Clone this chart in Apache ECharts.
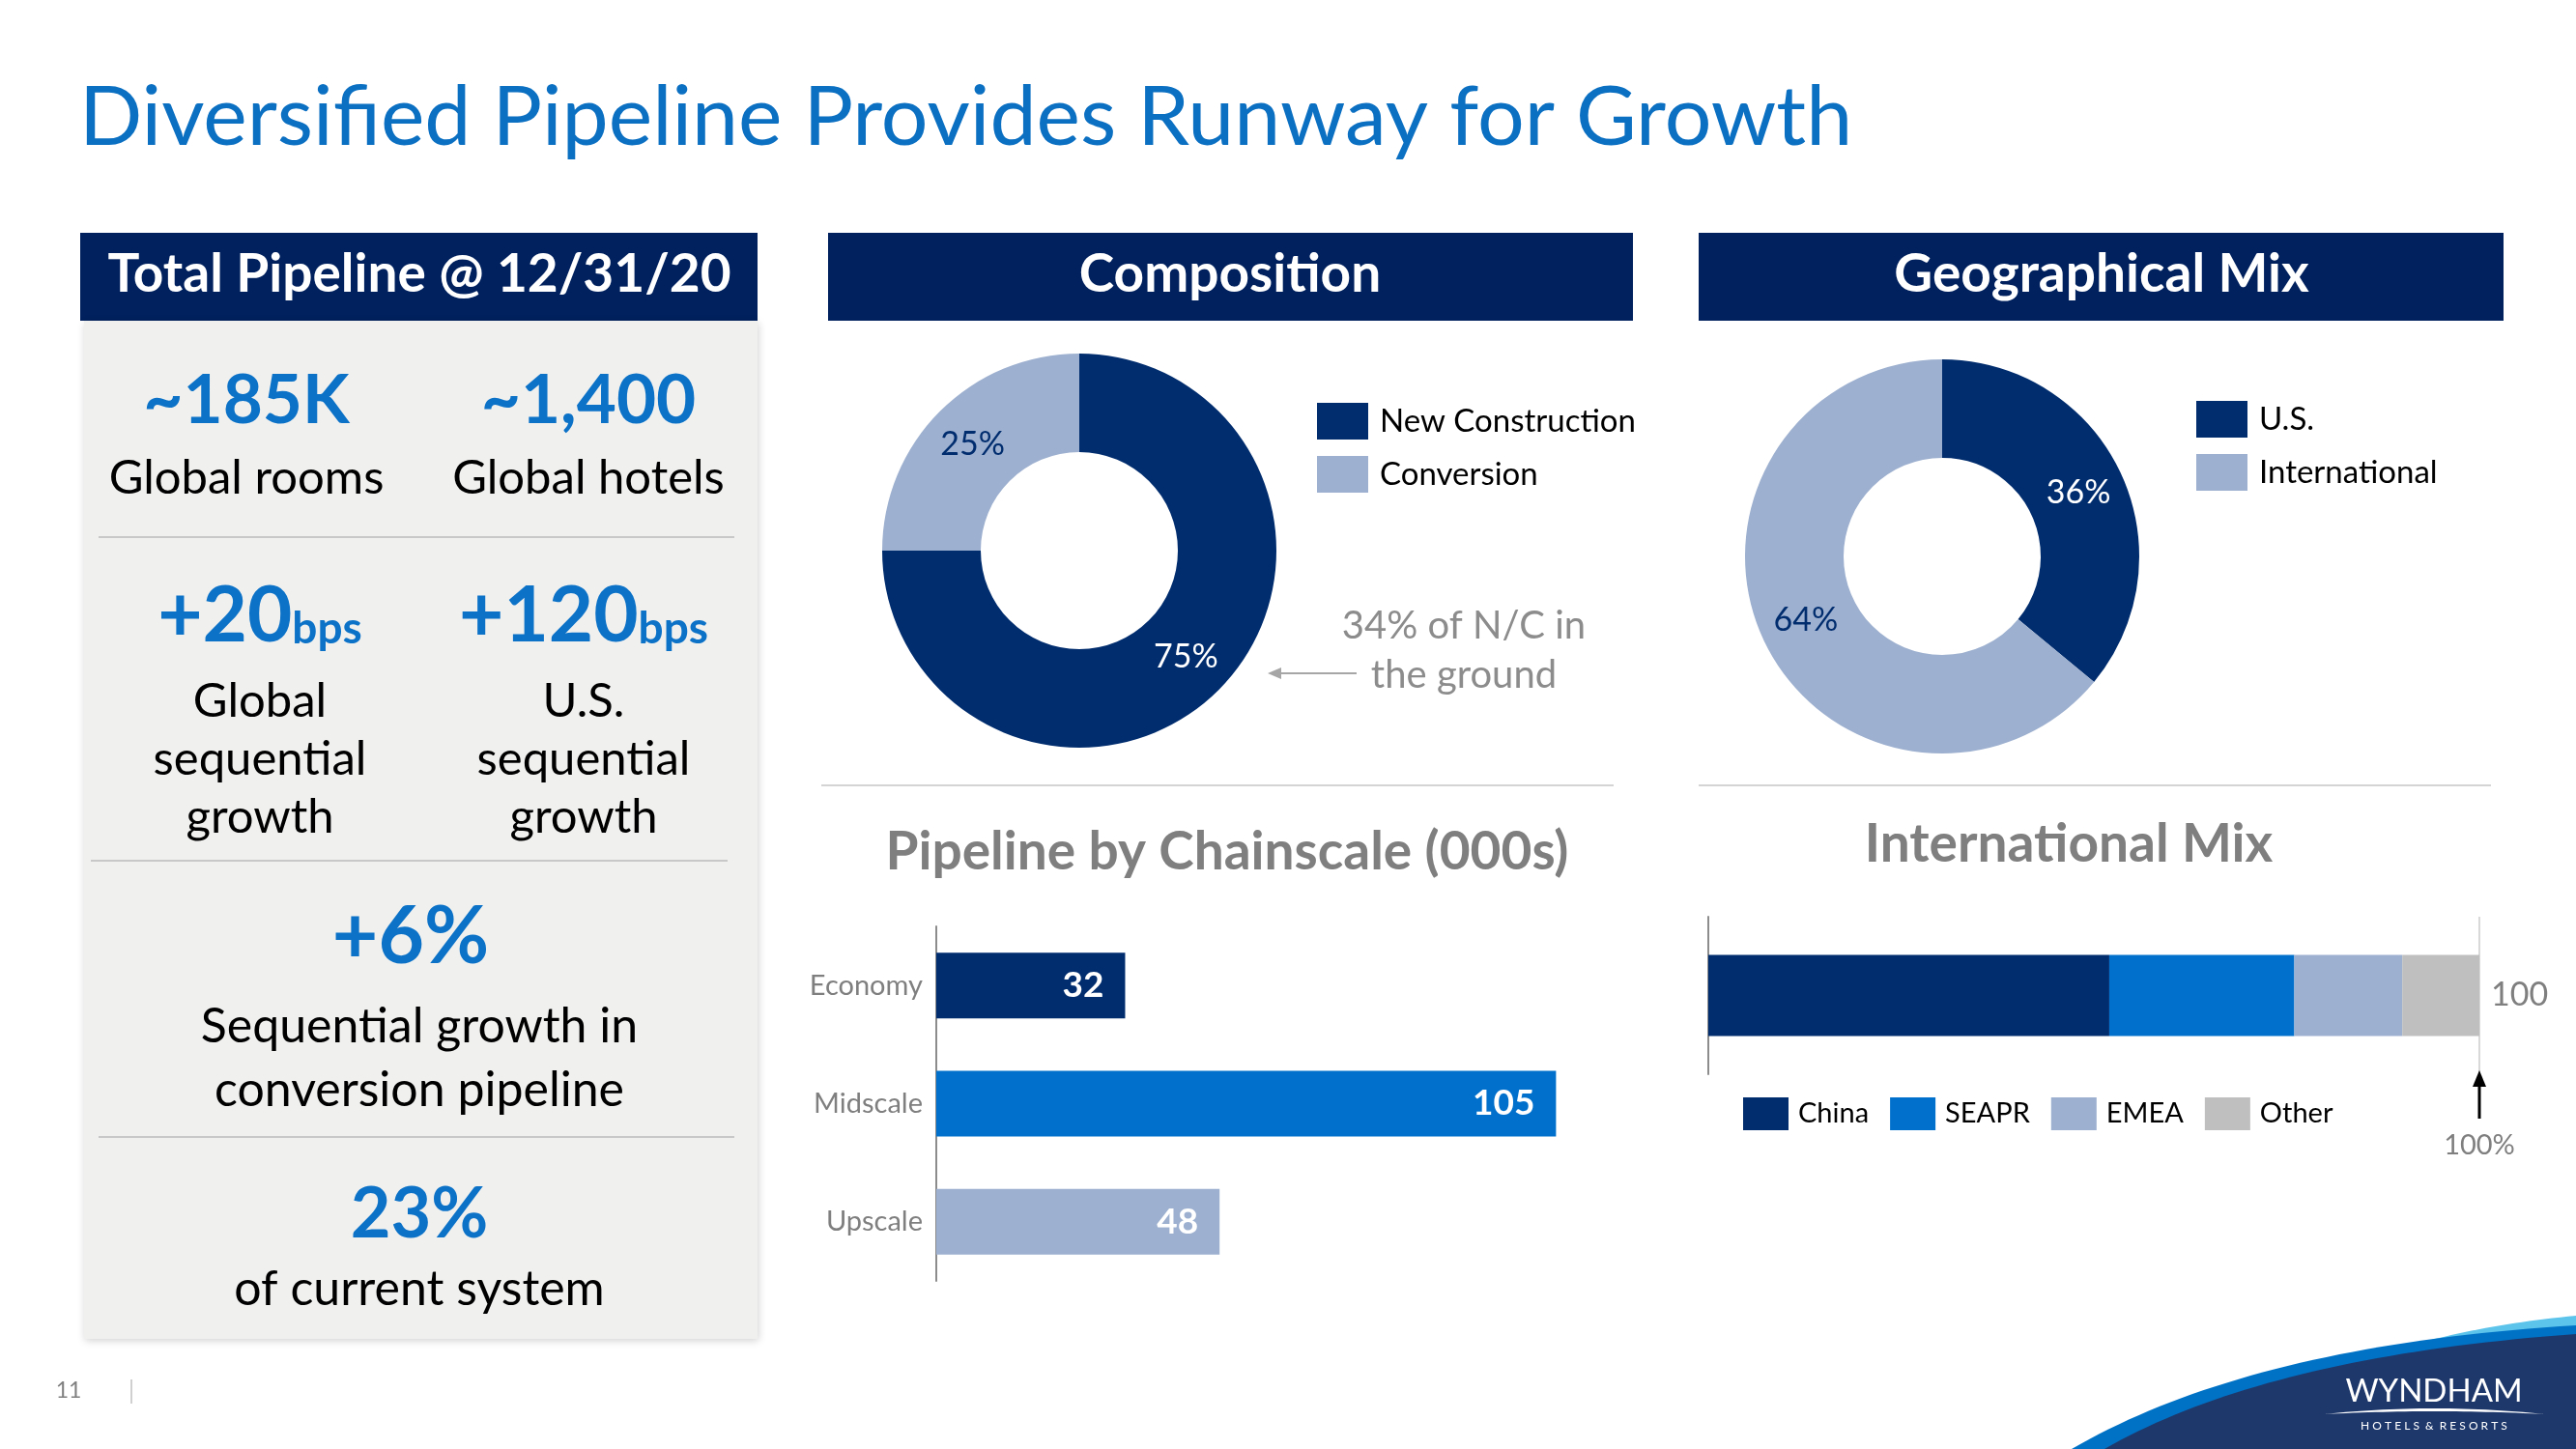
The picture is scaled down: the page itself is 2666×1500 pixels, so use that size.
<!DOCTYPE html>
<html>
<head>
<meta charset="utf-8">
<script src="https://cdn.jsdelivr.net/npm/echarts@6/dist/echarts.min.js"></script>
<style>
  html, body { margin: 0; padding: 0; background: #ffffff; }
  #chart { width: 2666px; height: 1500px; }
</style>
</head>
<body>
<div id="chart"></div>
<script>
// ---------- data ----------
const compositionNames = ['New Construction', 'Conversion'];
const compositionValues = [75, 25];
const geoNames = ['U.S.', 'International'];
const geoValues = [36, 64];
const chainscaleCategories = ['Economy', 'Midscale', 'Upscale'];
const chainscaleValues = [32, 105, 48];
const intlRegions = ['China', 'SEAPR', 'EMEA', 'Other'];
const intlValues = [52, 24, 14, 10];
const intlMarker = 100; // "100%" marker position

// ---------- styles ----------
const FONT = 'Lato, "Open Sans", "Noto Sans", sans-serif';
const NAVY_HDR = '#00215E';
const NAVY = '#012D6F';
const BLUE = '#0070CC';
const LIGHT = '#9DB0CF';
const GREY = '#BFBFBF';
const TXT_BLUE = '#0B72C8';
const TXT_GREY = '#7F7F7F';
const chainColors = [NAVY, BLUE, LIGHT];
const intlColors = [NAVY, BLUE, LIGHT, GREY];

const chart = echarts.init(document.getElementById('chart'), null, { renderer: 'canvas', width: 2666, height: 1500 });

function pieSeries(names, values, center, labelColors) {
  return {
    type: 'pie',
    center: center,
    radius: [102, 204],
    startAngle: 90,
    clockwise: true,
    silent: true,
    animation: false,
    itemStyle: { borderWidth: 0 },
    label: {
      show: true, position: 'inside', formatter: '{c}%',
      fontFamily: FONT, fontSize: 34
    },
    labelLine: { show: false },
    emphasis: { disabled: true },
    data: names.map((n, i) => ({
      name: n, value: values[i],
      itemStyle: { color: i === 0 ? NAVY : LIGHT },
      label: { color: labelColors[i] }
    }))
  };
}

const legendBase = {
  orient: 'vertical', icon: 'rect', itemWidth: 53, itemHeight: 38, itemGap: 17,
  selectedMode: false,
  textStyle: { fontFamily: FONT, fontSize: 33, color: '#000', padding: [0, 0, 0, 7] }
};

const totalIntl = intlValues.reduce((a, b) => a + b, 0);

const option = {
  animation: false,
  backgroundColor: '#ffffff',
  grid: [
    { left: 969, top: 959, width: 733, height: 367, containLabel: false },
    { left: 1768, top: 949, width: 798, height: 163, containLabel: false }
  ],
  xAxis: [
    { gridIndex: 0, type: 'value', min: 0, max: 120, show: false },
    { gridIndex: 1, type: 'value', min: 0, max: 100, interval: 100,
      axisLine: { show: false }, axisTick: { show: false }, axisLabel: { show: false },
      splitLine: { show: true, lineStyle: { color: '#D9D9D9', width: 2 } } }
  ],
  yAxis: [
    { gridIndex: 0, type: 'category', data: chainscaleCategories, inverse: true,
      axisLine: { show: true, lineStyle: { color: '#8C8C8C', width: 2 } },
      axisTick: { show: false },
      axisLabel: { color: TXT_GREY, fontFamily: FONT, fontSize: 29, margin: 14 } },
    { gridIndex: 1, type: 'category', data: ['International'],
      axisLine: { show: true, lineStyle: { color: '#8C8C8C', width: 2 } },
      axisTick: { show: false }, axisLabel: { show: false } }
  ],
  legend: [
    Object.assign({}, legendBase, { left: 1358, top: 412, data: compositionNames }),
    Object.assign({}, legendBase, { left: 2268, top: 410, data: geoNames }),
    { orient: 'horizontal', icon: 'rect', itemWidth: 47, itemHeight: 34, itemGap: 22,
      selectedMode: false, left: 1799, top: 1131, data: intlRegions,
      textStyle: { fontFamily: FONT, fontSize: 29, color: '#000', padding: [0, 0, 0, 5] } }
  ],
  series: [
    pieSeries(compositionNames, compositionValues, [1117, 570], ['#ffffff', NAVY]),
    pieSeries(geoNames, geoValues, [2010, 576], ['#ffffff', NAVY]),
    {
      type: 'bar', xAxisIndex: 0, yAxisIndex: 0, barWidth: 68, silent: true,
      data: chainscaleValues.map((v, i) => ({ value: v, itemStyle: { color: chainColors[i] } })),
      label: { show: true, position: 'insideRight', distance: 22, color: '#fff',
        fontFamily: FONT, fontWeight: 'bold', fontSize: 37 }
    }
  ].concat(intlRegions.map((name, i) => ({
    type: 'bar', name: name, stack: 'intl', xAxisIndex: 1, yAxisIndex: 1,
    barWidth: 84, silent: true,
    itemStyle: { color: intlColors[i] },
    data: [intlValues[i]],
    label: i === intlRegions.length - 1 ? {
      show: true, position: 'right', distance: 12, color: TXT_GREY,
      fontFamily: FONT, fontSize: 34, formatter: () => String(totalIntl)
    } : { show: false }
  })))
};

chart.setOption(option);

// marker position derived from the International Mix axis
const markerPx = chart.convertToPixel({ gridIndex: 1 }, [intlMarker, 0]);
const mx = markerPx[0];

function txt(x, y, text, font, fill, extra) {
  return {
    type: 'text', x: x, y: y, silent: true,
    style: Object.assign({ text: text, font: font, fill: fill,
      align: 'center', verticalAlign: 'middle', textAlign: 'center', textVerticalAlign: 'middle' }, extra || {})
  };
}
function hline(x1, x2, y, color, w) {
  return { type: 'line', silent: true, shape: { x1: x1, y1: y, x2: x2, y2: y },
    style: { stroke: color, lineWidth: w || 2 } };
}
// sample a quadratic curve (decorative logo shape only)
function quad(p0, p1, p2, n) {
  const pts = [];
  for (let k = 0; k <= n; k++) {
    const t = k / n, u = 1 - t;
    pts.push([u * u * p0[0] + 2 * u * t * p1[0] + t * t * p2[0],
              u * u * p0[1] + 2 * u * t * p1[1] + t * t * p2[1]]);
  }
  return pts;
}
function swoosh(p0, p1, p2, extra, fill) {
  return { type: 'polygon', silent: true,
    shape: { points: quad(p0, p1, p2, 40).concat(extra) }, style: { fill: fill } };
}

const graphics = [
  // title
  txt(82, 122, 'Diversified Pipeline Provides Runway for Growth', '86px ' + FONT, '#0B6FC2',
      { align: 'left', textAlign: 'left' }),
  // header bars
  { type: 'rect', shape: { x: 83, y: 241, width: 701, height: 91 }, style: { fill: NAVY_HDR }, silent: true },
  { type: 'rect', shape: { x: 857, y: 241, width: 833, height: 91 }, style: { fill: NAVY_HDR }, silent: true },
  { type: 'rect', shape: { x: 1758, y: 241, width: 833, height: 91 }, style: { fill: NAVY_HDR }, silent: true },
  txt(434, 284, 'Total Pipeline @ 12/31/20', 'bold 55px ' + FONT, '#ffffff'),
  txt(1273, 284, 'Composition', 'bold 55px ' + FONT, '#ffffff'),
  txt(2175, 284, 'Geographical Mix', 'bold 55px ' + FONT, '#ffffff'),
  // left panel
  { type: 'rect', shape: { x: 87, y: 332, width: 697, height: 1054 }, silent: true,
    style: { fill: '#F0F0EF', shadowBlur: 8, shadowColor: 'rgba(0,0,0,0.18)', shadowOffsetX: 1, shadowOffsetY: 2 } },
  txt(255, 415, '~185K', 'bold 71px ' + FONT, TXT_BLUE),
  txt(609, 415, '~1,400', 'bold 71px ' + FONT, TXT_BLUE),
  txt(255, 495, 'Global rooms', '49px ' + FONT, '#000'),
  txt(609, 495, 'Global hotels', '49px ' + FONT, '#000'),
  hline(102, 760, 556, '#C8C8C8', 2),
  { type: 'text', x: 269, y: 638, silent: true, style: {
      text: '{b|+20}{s|bps}', align: 'center', verticalAlign: 'middle', textAlign: 'center', textVerticalAlign: 'middle',
      rich: { b: { font: 'bold 80px ' + FONT, fill: TXT_BLUE, color: TXT_BLUE, verticalAlign: 'bottom' },
              s: { font: 'bold 46px ' + FONT, fill: TXT_BLUE, color: TXT_BLUE, verticalAlign: 'bottom', padding: [0, 0, 4, 0] } } } },
  { type: 'text', x: 604, y: 638, silent: true, style: {
      text: '{b|+120}{s|bps}', align: 'center', verticalAlign: 'middle', textAlign: 'center', textVerticalAlign: 'middle',
      rich: { b: { font: 'bold 80px ' + FONT, fill: TXT_BLUE, color: TXT_BLUE, verticalAlign: 'bottom' },
              s: { font: 'bold 46px ' + FONT, fill: TXT_BLUE, color: TXT_BLUE, verticalAlign: 'bottom', padding: [0, 0, 4, 0] } } } },
  txt(269, 786, 'Global\nsequential\ngrowth', '49px ' + FONT, '#000', { lineHeight: 60 }),
  txt(604, 786, 'U.S.\nsequential\ngrowth', '49px ' + FONT, '#000', { lineHeight: 60 }),
  hline(94, 753, 891, '#C8C8C8', 2),
  txt(425, 971, '+6%', 'bold 82px ' + FONT, TXT_BLUE),
  txt(434, 1096, 'Sequential growth in\nconversion pipeline', '50px ' + FONT, '#000', { lineHeight: 66 }),
  hline(102, 760, 1177, '#C8C8C8', 2),
  txt(434, 1258, '23%', 'bold 72px ' + FONT, TXT_BLUE),
  txt(434, 1335, 'of current system', '50px ' + FONT, '#000'),
  // composition annotation
  txt(1515, 648, '34% of N/C in', '40px ' + FONT, '#8C8C8C'),
  txt(1515, 699, 'the ground', '40px ' + FONT, '#8C8C8C'),
  { type: 'line', silent: true, shape: { x1: 1404, y1: 697, x2: 1322, y2: 697 }, style: { stroke: '#A6A6A6', lineWidth: 2 } },
  { type: 'polygon', silent: true, shape: { points: [[1312, 697], [1326, 691], [1326, 703]] }, style: { fill: '#A6A6A6' } },
  // section separators
  hline(850, 1670, 813, '#D4D4D4', 2),
  hline(1758, 2578, 813, '#D4D4D4', 2),
  // sub titles
  txt(1270, 882, 'Pipeline by Chainscale (000s)', 'bold 55px ' + FONT, TXT_GREY),
  txt(2141, 874, 'International Mix', 'bold 55px ' + FONT, TXT_GREY),
  // 100% marker arrow
  { type: 'line', silent: true, shape: { x1: mx, y1: 1158, x2: mx, y2: 1122 }, style: { stroke: '#000', lineWidth: 3 } },
  { type: 'polygon', silent: true, shape: { points: [[mx, 1108], [mx - 7, 1125], [mx + 7, 1125]] }, style: { fill: '#000' } },
  txt(mx, 1186, intlMarker + '%', '29px ' + FONT, TXT_GREY),
  // page number
  txt(71, 1440, '11', '23px ' + FONT, '#808080'),
  { type: 'line', silent: true, shape: { x1: 136, y1: 1428, x2: 136, y2: 1453 }, style: { stroke: '#D0D0D0', lineWidth: 2 } },
  // logo swoosh
  swoosh([2400, 1430], [2500, 1378], [2666, 1362], [[2666, 1500], [2400, 1500]], '#5CC3EA'),
  swoosh([2144, 1500], [2330, 1392], [2666, 1372], [[2666, 1500]], '#0072C6'),
  swoosh([2178, 1500], [2345, 1404], [2666, 1381], [[2666, 1500]], '#1E386B'),
  txt(2519, 1440, 'WYNDHAM', '33px ' + FONT, '#ffffff'),
  { type: 'polygon', silent: true,
    shape: { points: quad([2405, 1464], [2519, 1452], [2634, 1464], 30).concat(quad([2634, 1464], [2519, 1458], [2405, 1464], 30)) },
    style: { fill: '#ffffff' } },
  txt(2519, 1476, 'H O T E L S  &  R E S O R T S', '12px ' + FONT, '#ffffff')
];

chart.setOption({ graphic: graphics });
</script>
</body>
</html>
